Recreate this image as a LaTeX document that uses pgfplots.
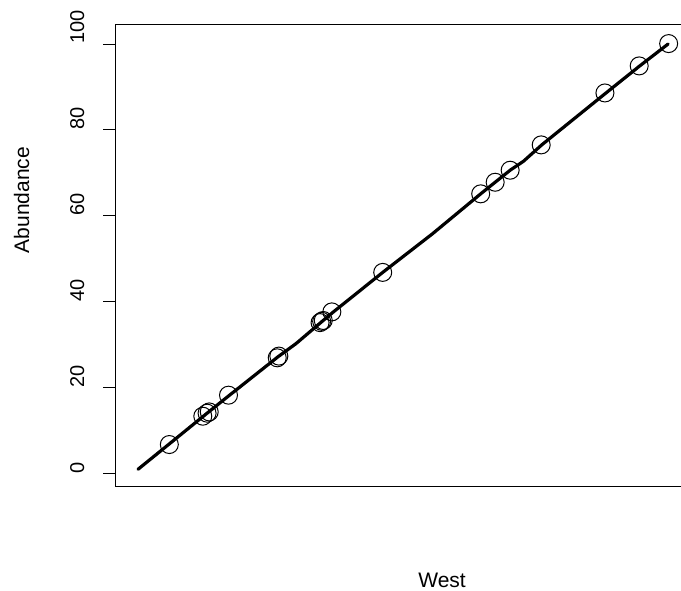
\documentclass[border=0pt]{standalone}
\usepackage{fontspec}
\setmainfont{Liberation Sans}
\usepackage{pgfplots}
\pgfplotsset{compat=1.18}
\begin{document}
\begin{tikzpicture}
\useasboundingbox (0pt,0pt) rectangle (681pt,591pt);
\clip (0pt,0pt) rectangle (681pt,591pt);
\begin{axis}[
  at={(116pt,104pt)}, anchor=south west,
  scale only axis, width=573pt, height=462pt,
  xmin=-3.11, xmax=103.9, ymin=-3.19, ymax=104.43,
  xtick=\empty,
  ytick={0,20,40,60,80,100},
  ytick pos=left,
  tick align=outside,
  major tick length=13pt,
  tick style={line width=0.9pt, black},
  axis line style={line width=1pt},
  /pgf/number format/assume math mode=true,
  yticklabel style={rotate=90, anchor=base west, inner sep=0pt, yshift=19pt,
    font=\fontsize{20}{24}\selectfont},
  every axis y label/.style={at={(axis description cs:-0.1518,0.6212)}, rotate=90, anchor=base,
    font=\fontsize{21}{25}\selectfont},
  every axis x label/.style={at={(axis description cs:0.569,-0.2186)}, anchor=base,
    font=\fontsize{21}{25}\selectfont},
  ylabel={Abundance},
  xlabel={West},
  clip=false,
]
\addplot[black, line width=3.2pt, line join=round, line cap=round] coordinates {
  (1,0.93) (6.8,6.8) (14,14.1) (18,18.1) (27.1,27.1) (30.5,30.2) (35.3,35.3)
  (37.4,37.5) (46.7,46.8) (56,55.8) (65,65.1) (70.5,70.6) (73,72.7) (76.4,76.5)
  (88.3,88.5) (94.6,94.8) (100,100)
};
\addplot[only marks, mark=o, mark size=9pt, mark options={line width=1pt, black}] coordinates {
  (6.85,6.7) (13.1,13.3) (13.9,14.0) (14.3,14.3) (17.9,18.2)
  (27.0,26.9) (27.3,27.3) (35.0,35.1) (35.3,35.4) (35.6,35.6)
  (37.2,37.6) (46.7,46.8) (65.0,65.1) (67.7,67.8) (70.5,70.6)
  (76.3,76.5) (88.2,88.6) (94.6,94.9) (100.1,100.1)
};
\end{axis}
\end{tikzpicture}
\end{document}
